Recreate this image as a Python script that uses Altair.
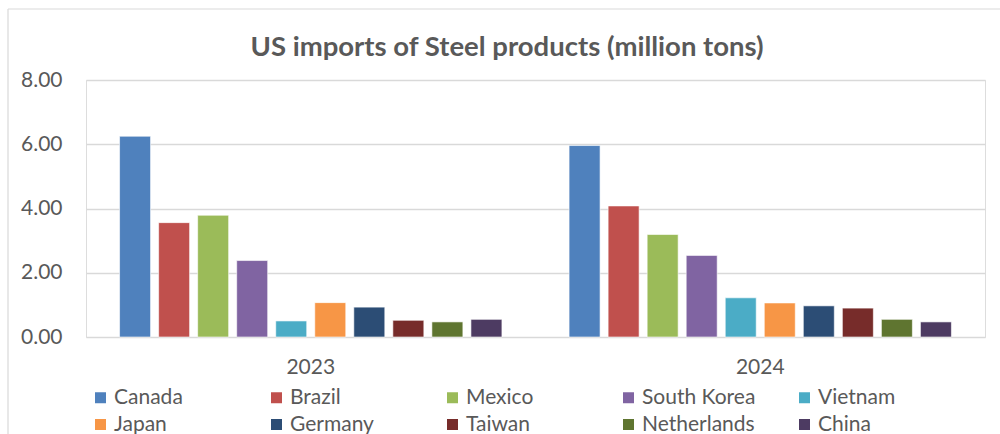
import altair as alt
import pandas as pd

countries = ["Canada", "Brazil", "Mexico", "South Korea", "Vietnam",
             "Japan", "Germany", "Taiwan", "Netherlands", "China"]
years = ["2023", "2024"]
v2023 = [6.25, 3.56, 3.79, 2.38, 0.50, 1.07, 0.93, 0.52, 0.47, 0.55]
v2024 = [5.96, 4.08, 3.19, 2.54, 1.22, 1.06, 0.97, 0.90, 0.55, 0.47]
colors = ["#4F81BD", "#C0504D", "#9BBB59", "#8064A2", "#4BACC6",
          "#F79646", "#2C4D75", "#772C2A", "#5F7530", "#4D3B62"]
y_ticks = [0, 2, 4, 6, 8]
title_text = "US imports of Steel products (million tons)"

rows = []
for yr, vals in zip(years, [v2023, v2024]):
    for c, v in zip(countries, vals):
        rows.append({"year": yr, "country": c, "value": v})
df = pd.DataFrame(rows)

FONT = "Lato"
TXT = "#595959"

bars = alt.Chart(df).mark_bar(stroke="white", strokeWidth=1, strokeOpacity=0.6).encode(
    x=alt.X("year:N", sort=years,
            scale=alt.Scale(paddingInner=0, paddingOuter=0),
            axis=alt.Axis(title=None, labelAngle=0, ticks=False, domain=False,
                          labelFontSize=21, labelColor=TXT, labelFont=FONT,
                          labelPadding=19)),
    xOffset=alt.XOffset("country:N", sort=countries,
                        scale=alt.Scale(paddingInner=0.206, paddingOuter=0.86)),
    y=alt.Y("value:Q",
            scale=alt.Scale(domain=[0, 8], nice=False),
            axis=alt.Axis(title=None, values=y_ticks, format=".2f", ticks=False,
                          domain=False, labelFontSize=21, labelColor=TXT,
                          labelFont=FONT, labelPadding=24,
                          gridColor="#D9D9D9", gridWidth=1.3)),
    color=alt.Color("country:N", sort=countries,
                    scale=alt.Scale(domain=countries, range=colors),
                    legend=alt.Legend(title=None, orient="none", legendX=4, legendY=307,
                                      direction="horizontal", columns=5,
                                      symbolType="square", symbolSize=121,
                                      symbolStrokeWidth=0, labelFontSize=21,
                                      labelFont=FONT, labelColor=TXT,
                                      labelOffset=3, columnPadding=38,
                                      rowPadding=5, gridAlign="all")),
)

one = pd.DataFrame({"k": [0]})
left_border = alt.Chart(one).mark_rule(color="#D9D9D9", strokeWidth=1.2).encode(
    x=alt.value(-78), y=alt.value(-71), y2=alt.value(354))
top_border = alt.Chart(one).mark_rule(color="#D9D9D9", strokeWidth=1.2).encode(
    x=alt.value(-78), x2=alt.value(914), y=alt.value(-71))
title = alt.Chart(one).mark_text(fontSize=27.5, font=FONT, fontWeight="bold", color=TXT,
                                 align="center", baseline="middle").encode(
    x=alt.value(421), y=alt.value(-32), text=alt.value(title_text))

chart = alt.layer(bars, left_border, top_border, title).properties(
    width=899, height=257,
    autosize=alt.AutoSizeParams(type="none"),
    padding={"left": 86, "top": 80, "right": 15, "bottom": 97},
).configure_view(stroke=None).configure(background="white")

chart.save("out.html", embed_options={"renderer": "svg", "actions": False})
